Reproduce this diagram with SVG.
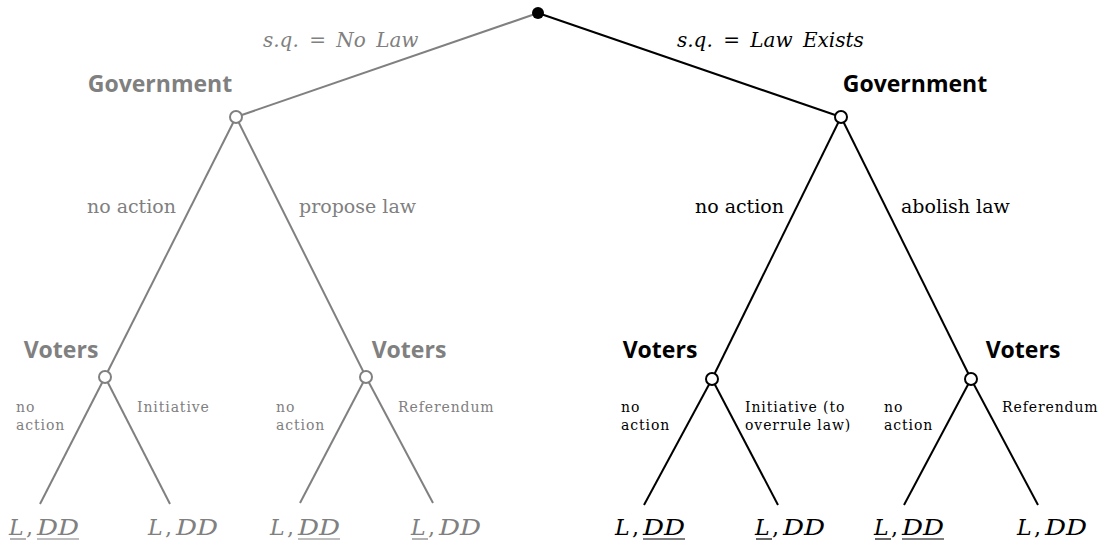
<svg xmlns="http://www.w3.org/2000/svg" width="1110" height="549" viewBox="0 0 1110 549">
<style>
.bg{fill:#ffffff}
.eg{stroke:#808080;stroke-width:2;fill:none}
.eb{stroke:#000000;stroke-width:2;fill:none}
.ng{fill:#ffffff;stroke:#808080;stroke-width:2}
.nb{fill:#ffffff;stroke:#000000;stroke-width:2}
.player{font-family:"Open Sans","DejaVu Sans",sans-serif;font-weight:bold;font-size:23px}
.sq{font-family:"DejaVu Serif",serif;font-style:italic;font-size:20px;word-spacing:4px}
.mid{font-family:"DejaVu Serif",serif;font-size:19px}
.small{font-family:"DejaVu Serif",serif;font-size:14px;letter-spacing:0.9px}
.leaf{font-family:"DejaVu Serif",serif;font-style:italic;font-size:22px}
.up{font-style:normal}
.g{fill:#808080}
.b{fill:#000000}
.ulg{stroke:#808080;stroke-width:1.2}
.ulb{stroke:#000000;stroke-width:1.2}
</style>
<rect class="bg" x="0" y="0" width="1110" height="549"/>
<g id="connectors">
<line class="eg" x1="538" y1="13" x2="236" y2="117"/>
<line class="eb" x1="538" y1="13" x2="841" y2="117"/>
<line class="eg" x1="236" y1="117" x2="105" y2="377"/>
<line class="eg" x1="236" y1="117" x2="366" y2="377"/>
<line class="eb" x1="841" y1="117" x2="712" y2="379"/>
<line class="eb" x1="841" y1="117" x2="971" y2="379"/>
<line class="eg" x1="105" y1="377" x2="40" y2="504"/>
<line class="eg" x1="105" y1="377" x2="170" y2="504"/>
<line class="eg" x1="366" y1="377" x2="300" y2="503"/>
<line class="eg" x1="366" y1="377" x2="433" y2="503"/>
<line class="eb" x1="712" y1="379" x2="644" y2="505"/>
<line class="eb" x1="712" y1="379" x2="778" y2="505"/>
<line class="eb" x1="971" y1="379" x2="904" y2="505"/>
<line class="eb" x1="971" y1="379" x2="1038" y2="505"/>
</g>
<g id="edge-labels">
<text class="sq g" x="263" y="47">s.q. <tspan class="up">=</tspan> No Law</text>
<text class="sq b" x="677" y="47">s.q. <tspan class="up">=</tspan> Law Exists</text>
<text class="mid g" x="176" y="213" text-anchor="end">no action</text>
<text class="mid g" x="299" y="213">propose law</text>
<text class="mid b" x="784" y="213" text-anchor="end">no action</text>
<text class="mid b" x="901" y="213">abolish law</text>
<text class="small g" x="16" y="412">no</text>
<text class="small g" x="16" y="430">action</text>
<text class="small g" x="137" y="412">Initiative</text>
<text class="small g" x="276" y="412">no</text>
<text class="small g" x="276" y="430">action</text>
<text class="small g" x="398" y="412">Referendum</text>
<text class="small b" x="621" y="412">no</text>
<text class="small b" x="621" y="430">action</text>
<text class="small b" x="745" y="412">Initiative (to</text>
<text class="small b" x="745" y="430">overrule law)</text>
<text class="small b" x="884" y="412">no</text>
<text class="small b" x="884" y="430">action</text>
<text class="small b" x="1002" y="412">Referendum</text>
</g>
<g id="root">
<circle cx="538" cy="13" r="6" fill="#000000"/>
</g>
<g id="gov-left">
<circle class="ng" cx="236" cy="117" r="6"/>
<text class="player g" x="160" y="92" text-anchor="middle">Government</text>
</g>
<g id="gov-right">
<circle class="nb" cx="841" cy="117" r="6"/>
<text class="player b" x="915" y="92" text-anchor="middle">Government</text>
</g>
<g id="voters-1">
<circle class="ng" cx="105" cy="377" r="6"/>
<text class="player g" x="61" y="358" text-anchor="middle">Voters</text>
</g>
<g id="voters-2">
<circle class="ng" cx="366" cy="377" r="6"/>
<text class="player g" x="409" y="358" text-anchor="middle">Voters</text>
</g>
<g id="voters-3">
<circle class="nb" cx="712" cy="379" r="6"/>
<text class="player b" x="660" y="358" text-anchor="middle">Voters</text>
</g>
<g id="voters-4">
<circle class="nb" cx="971" cy="379" r="6"/>
<text class="player b" x="1023" y="358" text-anchor="middle">Voters</text>
</g>
<g id="leaf-1">
<text class="leaf g"><tspan x="9" y="535">L</tspan><tspan class="up" x="26" y="535">,</tspan><tspan x="37" y="535" textLength="42" lengthAdjust="spacingAndGlyphs">DD</tspan></text>
<line class="ulg" x1="10" y1="539" x2="26" y2="539"/>
<line class="ulg" x1="37" y1="539" x2="79" y2="539"/>
</g>
<g id="leaf-2">
<text class="leaf g"><tspan x="148" y="535">L</tspan><tspan class="up" x="165" y="535">,</tspan><tspan x="176" y="535" textLength="42" lengthAdjust="spacingAndGlyphs">DD</tspan></text>
</g>
<g id="leaf-3">
<text class="leaf g"><tspan x="270" y="535">L</tspan><tspan class="up" x="287" y="535">,</tspan><tspan x="298" y="535" textLength="42" lengthAdjust="spacingAndGlyphs">DD</tspan></text>
<line class="ulg" x1="298" y1="539" x2="340" y2="539"/>
</g>
<g id="leaf-4">
<text class="leaf g"><tspan x="411" y="535">L</tspan><tspan class="up" x="428" y="535">,</tspan><tspan x="439" y="535" textLength="42" lengthAdjust="spacingAndGlyphs">DD</tspan></text>
<line class="ulg" x1="412" y1="539" x2="428" y2="539"/>
</g>
<g id="leaf-5">
<text class="leaf b"><tspan x="615" y="535">L</tspan><tspan class="up" x="632" y="535">,</tspan><tspan x="643" y="535" textLength="42" lengthAdjust="spacingAndGlyphs">DD</tspan></text>
<line class="ulb" x1="643" y1="539" x2="685" y2="539"/>
</g>
<g id="leaf-6">
<text class="leaf b"><tspan x="755" y="535">L</tspan><tspan class="up" x="772" y="535">,</tspan><tspan x="783" y="535" textLength="42" lengthAdjust="spacingAndGlyphs">DD</tspan></text>
<line class="ulb" x1="756" y1="539" x2="772" y2="539"/>
</g>
<g id="leaf-7">
<text class="leaf b"><tspan x="874" y="535">L</tspan><tspan class="up" x="891" y="535">,</tspan><tspan x="902" y="535" textLength="42" lengthAdjust="spacingAndGlyphs">DD</tspan></text>
<line class="ulb" x1="875" y1="539" x2="891" y2="539"/>
<line class="ulb" x1="902" y1="539" x2="944" y2="539"/>
</g>
<g id="leaf-8">
<text class="leaf b"><tspan x="1017" y="535">L</tspan><tspan class="up" x="1034" y="535">,</tspan><tspan x="1045" y="535" textLength="42" lengthAdjust="spacingAndGlyphs">DD</tspan></text>
</g>
</svg>
